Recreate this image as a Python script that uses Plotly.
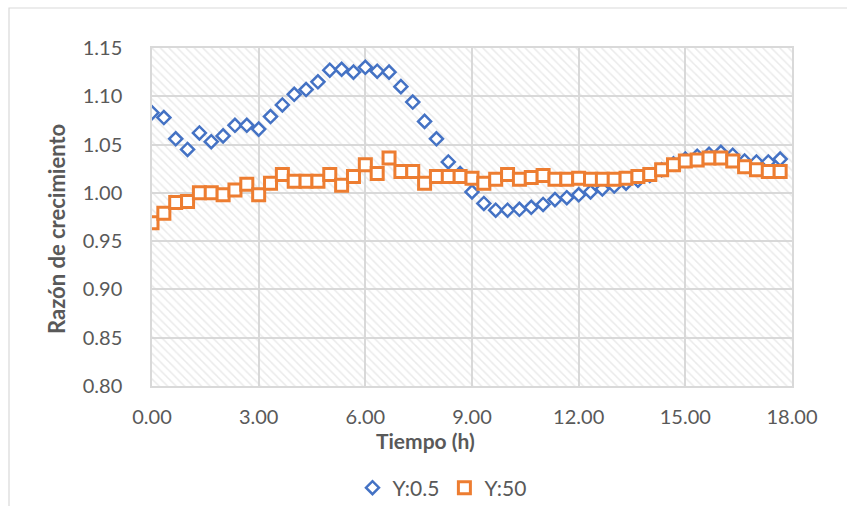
import plotly.graph_objects as go

# Sampling every 20 minutes over the run
tiempo_h = [i / 3 for i in range(54)]

y_05 = [1.083, 1.078, 1.056, 1.045, 1.062, 1.053, 1.059, 1.070, 1.070, 1.066,
        1.079, 1.091, 1.102, 1.107, 1.115, 1.127, 1.128, 1.125, 1.130, 1.126,
        1.125, 1.110, 1.094, 1.074, 1.056, 1.032, 1.020, 1.001, 0.989, 0.982,
        0.982, 0.983, 0.985, 0.988, 0.993, 0.995, 0.998, 1.001, 1.004, 1.007,
        1.010, 1.013, 1.018, 1.024, 1.030, 1.035, 1.038, 1.040, 1.042, 1.039,
        1.033, 1.032, 1.032, 1.035]

y_50 = [0.969, 0.979, 0.990, 0.991, 1.000, 1.000, 0.998, 1.003, 1.009, 0.998,
        1.010, 1.019, 1.012, 1.012, 1.012, 1.019, 1.008, 1.017, 1.029, 1.020,
        1.036, 1.022, 1.022, 1.010, 1.017, 1.017, 1.017, 1.015, 1.010, 1.014,
        1.019, 1.014, 1.016, 1.018, 1.014, 1.014, 1.015, 1.014, 1.014, 1.014,
        1.015, 1.017, 1.019, 1.024, 1.029, 1.033, 1.034, 1.036, 1.036, 1.033,
        1.027, 1.024, 1.022, 1.022]

x_range = [0, 18]
y_range = [0.80, 1.15]
x_ticks = [0, 3, 6, 9, 12, 15, 18]
y_ticks = [0.80, 0.85, 0.90, 0.95, 1.00, 1.05, 1.10, 1.15]

x_title = "Tiempo (h)"
y_title = "Razón de crecimiento"

FONT = "Lato"
TXT = "#595959"
GRID = "#d9d9d9"

fig = go.Figure()

# Hatched plot-area background (transparent between stripes so the grid shows)
fig.add_trace(go.Scatter(
    x=[x_range[0], x_range[1], x_range[1], x_range[0], x_range[0]],
    y=[y_range[0], y_range[0], y_range[1], y_range[1], y_range[0]],
    mode="lines", line=dict(width=0), fill="toself",
    fillcolor="rgba(0,0,0,0)",
    fillpattern=dict(shape="\\", fgcolor="#d6d6d6", bgcolor="rgba(0,0,0,0)",
                     size=6, solidity=0.25),
    hoverinfo="skip", showlegend=False,
))

fig.add_trace(go.Scatter(
    x=tiempo_h, y=y_05, mode="markers", name="Y:0.5",
    marker=dict(symbol="diamond", size=10, color="white",
                line=dict(color="#4472C4", width=2.5)),
))
fig.add_trace(go.Scatter(
    x=tiempo_h, y=y_50, mode="markers", name="Y:50",
    marker=dict(symbol="square", size=12, color="white",
                line=dict(color="#ED7D31", width=3)),
))

W, H = 847, 506
L, R, T, B = 152, 55, 48, 120
pw, ph = W - L - R, H - T - B


def px_x(p):
    return (p - L) / pw


def px_y(p):
    return (T + ph - p) / ph


fig.update_layout(
    width=W, height=H,
    margin=dict(l=L, r=R, t=T, b=B, autoexpand=False),
    paper_bgcolor="white", plot_bgcolor="white",
    font=dict(family=FONT, color=TXT, size=20),
    showlegend=True,
    legend=dict(orientation="h", xref="container", yref="container",
                x=442 / W, y=(H - 488) / H,
                xanchor="center", yanchor="middle",
                font=dict(family=FONT, size=21, color=TXT),
                itemwidth=30, tracegroupgap=0),
    xaxis=dict(range=x_range, tickvals=x_ticks, tickformat=".2f",
               showgrid=True, gridcolor=GRID, gridwidth=1.5,
               showline=True, linecolor=GRID, linewidth=1.5, mirror=True,
               zeroline=False, ticks="", ticklabelstandoff=12,
               tickfont=dict(size=20, color=TXT, family=FONT)),
    yaxis=dict(range=y_range, tickvals=y_ticks, tickformat=".2f",
               showgrid=True, gridcolor=GRID, gridwidth=1.5,
               showline=True, linecolor=GRID, linewidth=1.5, mirror=True,
               zeroline=False, ticks="", ticklabelstandoff=24,
               tickfont=dict(size=20, color=TXT, family=FONT)),
    annotations=[
        dict(text=f"<b>{x_title}</b>", xref="paper", yref="paper",
             x=px_x(425), y=px_y(440), xanchor="center", yanchor="middle",
             showarrow=False, font=dict(size=21, color=TXT, family=FONT)),
        dict(text=f"<b>{y_title}</b>", xref="paper", yref="paper",
             x=px_x(56), y=px_y(229), xanchor="center", yanchor="middle",
             textangle=-90, showarrow=False,
             font=dict(size=22, color=TXT, family=FONT)),
    ],
    shapes=[dict(type="rect", xref="paper", yref="paper",
                 x0=px_x(9), x1=px_x(W + 20),
                 y0=px_y(H + 20), y1=px_y(8),
                 line=dict(color="#d9d9d9", width=1.2), layer="below")],
)

fig.write_html("out.html")
